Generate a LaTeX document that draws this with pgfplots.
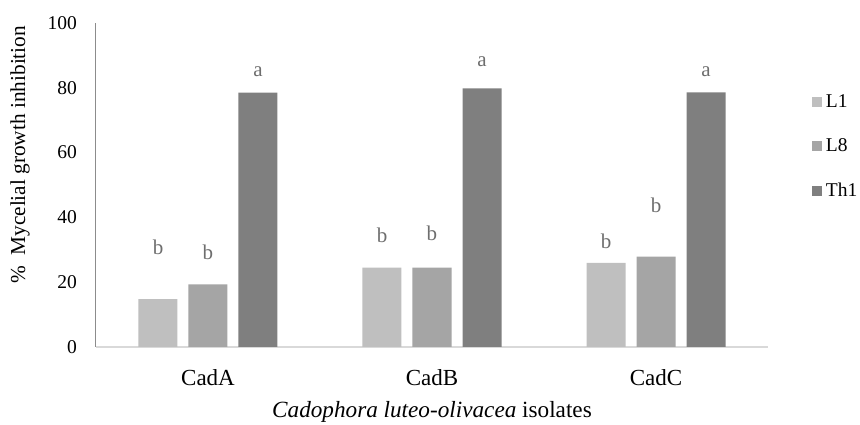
\documentclass[border=0pt]{standalone}
\usepackage{pgfplots}
\pgfplotsset{compat=1.18}
\usepackage{pgfplotstable}
\usepackage{fontspec}
\setmainfont{Liberation Serif}
\definecolor{cL1}{HTML}{BFBFBF}
\definecolor{cL8}{HTML}{A5A5A5}
\definecolor{cTh}{HTML}{7F7F7F}
\definecolor{lettc}{HTML}{6E6E6E}
\definecolor{axy}{HTML}{8C8C8C}
\definecolor{axx}{HTML}{D9D9D9}

\pgfplotstableread{
x L1 L8 Th1
0 14.8 19.3 78.5
1 24.5 24.5 79.8
2 26.0 27.9 78.6
}\datatable

\begin{document}
\begin{tikzpicture}[x=1pt,y=1pt]
\path[use as bounding box] (-96,-78) rectangle (764,347);
\begin{axis}[
  at={(0,0)}, anchor=south west,
  width=672pt, height=324pt, scale only axis,
  xmin=-0.5, xmax=2.5, ymin=0, ymax=100,
  ybar=11pt, bar width=39pt,
  axis x line=bottom, axis y line=left,
  x axis line style={-, draw=axx, line width=1.2pt},
  y axis line style={-, draw=axy, line width=1pt},
  major tick length=0pt,
  ytick={0,20,40,60,80,100},
  xtick={0,1,2}, xticklabels={CadA,CadB,CadC},
  yticklabel style={font=\fontsize{19.5}{20}\selectfont, inner sep=0pt, xshift=-19pt},
  xticklabel style={font=\fontsize{23}{24}\selectfont, inner sep=0pt, yshift=-22pt},
  /pgf/number format/assume math mode=true,
  xlabel={\textit{Cadophora luteo-olivacea} isolates},
  xlabel style={at={(axis description cs:0.5,0)}, anchor=base, yshift=-71pt, inner sep=0pt, font=\fontsize{23.2}{24}\selectfont},
  ylabel={\%\ \ Mycelial growth inhibition},
  ylabel style={at={(axis description cs:-0.1131,0.593)}, anchor=center, inner sep=0pt, font=\fontsize{21.3}{22}\selectfont},
  legend style={at={(axis description cs:1.065,0.786)}, anchor=north west, draw=none, fill=none,
    font=\fontsize{19.5}{20}\selectfont, row sep=26pt, inner sep=0pt,
    nodes={inner sep=2pt},
    /tikz/every odd column/.append style={column sep=2pt}},
  legend cell align=left,
  legend image code/.code={\fill[#1] (0pt,-5pt) rectangle (10pt,5pt);},
]
\addplot[fill=cL1, draw=none] table[x=x, y=L1] {\datatable};
\addplot[fill=cL8, draw=none] table[x=x, y=L8] {\datatable};
\addplot[fill=cTh, draw=none] table[x=x, y=Th1] {\datatable};
\legend{L1, L8, Th1}
\begin{scope}[every node/.style={anchor=base, text=lettc, inner sep=0pt, font=\fontsize{21}{22}\selectfont}]
\node at (axis cs:-0.2232,28.4) {b};
\node at (axis cs:0,26.9) {b};
\node at (axis cs:0.2232,83.4) {a};
\node at (axis cs:0.7768,32.3) {b};
\node at (axis cs:1,33.0) {b};
\node at (axis cs:1.2232,86.7) {a};
\node at (axis cs:1.7768,30.5) {b};
\node at (axis cs:2,41.6) {b};
\node at (axis cs:2.2232,83.4) {a};
\end{scope}
\end{axis}
\end{tikzpicture}
\end{document}
